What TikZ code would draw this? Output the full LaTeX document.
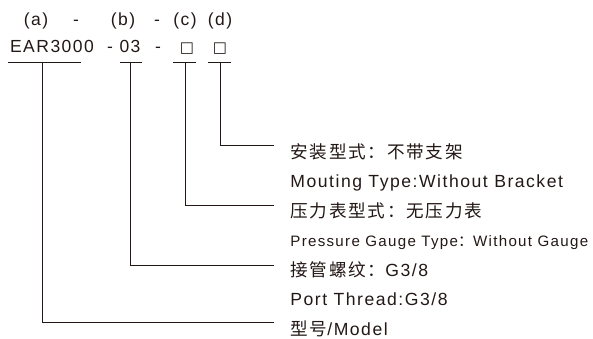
\documentclass[tikz,border=0pt]{standalone}
\usepackage{fontspec}
\setmainfont{Liberation Sans}[LetterSpace=8.6]
\newfontfamily\cjk{Noto Sans CJK SC}[LetterSpace=10]
\newfontfamily\symb{DejaVu Sans}
\usetikzlibrary{positioning}

\definecolor{ink}{RGB}{35,24,21}

\begin{document}
\begin{tikzpicture}[x=1pt, y=-1pt, line width=0.8pt, draw=ink,
    code/.style={inner sep=0pt, anchor=base, text=ink, font=\fontsize{17.5}{20}\selectfont},
    lbl/.style={inner sep=0pt, anchor=base west, text=ink, font=\fontsize{17.6}{20}\selectfont},
    small/.style={lbl, font=\fontsize{15.1}{18}\selectfont}]
    \useasboundingbox (0,0) rectangle (593,339);

    % Letters of the code
    \node[code] (pa) at (36,26) {(a)};
    \node[code] (s1) at (76,26) {-};
    \node[code] (pb) at (123,26) {(b)};
    \node[code] (s2) at (157,26) {-};
    \node[code] (pc) at (185,26) {(c)};
    \node[code] (pd) at (220,26) {(d)};

    % Model code
    \node[code] (ma) at (52,53) {EAR3000};
    \node[code] (s3) at (110,53) {-};
    \node[code] (mb) at (130,53) {03};
    \node[code] (s4) at (158,53) {-};
    \node[code, font=\fontsize{15}{18}\selectfont] (mc) at (187,53) {\symb □};
    \node[code, font=\fontsize{15}{18}\selectfont] (md) at (220,53) {\symb □};

    % Underlines
    \draw (8,62) -- (81,62);
    \draw (120,62) -- (142,62);
    \draw (173,62) -- (196,62);
    \draw (208,62) -- (231,62);
    \coordinate (ua) at (42,62);
    \coordinate (ub) at (130,62);
    \coordinate (uc) at (185,62);
    \coordinate (ud) at (220,62);

    % Descriptions
    \node[lbl] (d1) at (290,158) {\cjk 安装型式：不带支架};
    \node[lbl] (d2) at (290,187.5) {Mouting Type:Without Bracket};
    \node[lbl] (c1) at (290,217) {\cjk 压力表型式：无压力表};
    \node[small] (c2) at (290,246) {Pressure Gauge Type{\cjk ：}Without Gauge};
    \node[lbl] (b1) at (290,276) {{\cjk 接管螺纹：}G3/8};
    \node[lbl] (b2) at (290,305.5) {Port Thread:G3/8};
    \node[lbl] (a1) at (290,335) {{\cjk 型号}/Model};

    % Leaders
    \coordinate (ed) at (274,145);
    \coordinate (ec) at (274,205);
    \coordinate (eb) at (274,265);
    \coordinate (ea) at (274,322);
    \draw (ud) |- (ed);
    \draw (uc) |- (ec);
    \draw (ub) |- (eb);
    \draw (ua) |- (ea);
\end{tikzpicture}
\end{document}
